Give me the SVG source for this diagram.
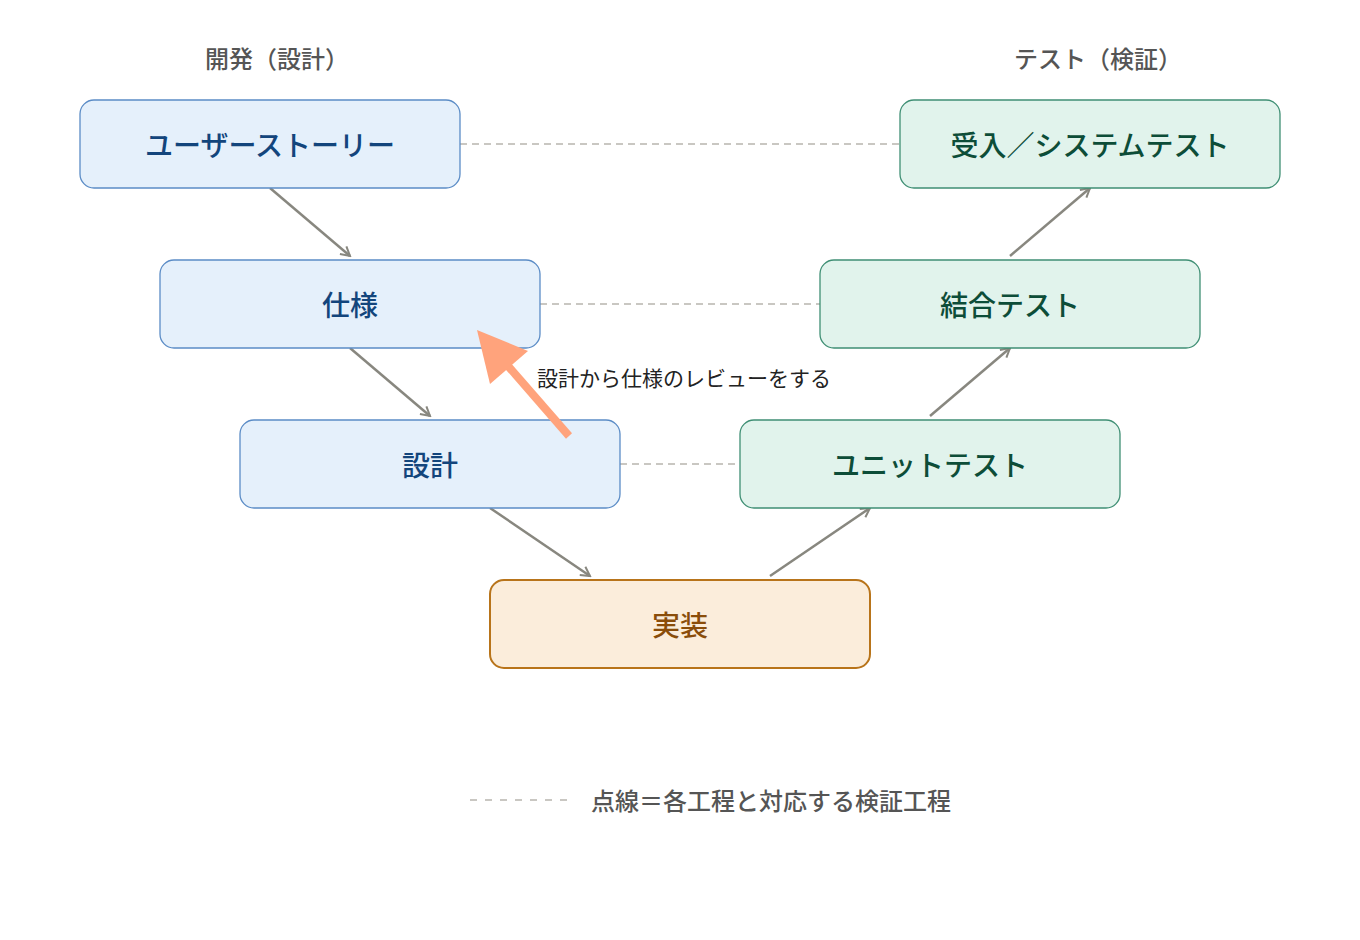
<svg xmlns="http://www.w3.org/2000/svg" width="1360" height="940" viewBox="0 0 1360 940">
<style>
text{font-family:"Noto Sans CJK JP","Noto Sans",sans-serif}
.dev rect{fill:#e5f0fb;stroke:#5b8cc6;stroke-width:1.3}
.dev text{fill:#13457c}
.tst rect{fill:#e1f3ec;stroke:#3f8f74;stroke-width:1.3}
.tst text{fill:#0d4d38}
.imp rect{fill:#fbeddb;stroke:#b8741a;stroke-width:2}
.imp text{fill:#8a4d0a}
.lbl{font-size:28px;font-weight:500;text-anchor:middle}
.hdr{font-size:24px;fill:#555;text-anchor:middle;font-weight:500}
.flow{stroke:#88877f;stroke-width:2.5;fill:none;marker-end:url(#ah)}
.dash{stroke:#b8b5af;stroke-width:1.5;stroke-dasharray:7 5;fill:none}
.dash.leg{stroke-dasharray:7 8}
</style>
<defs>
<marker id="ah" viewBox="0 0 12 12" refX="10" refY="6" markerWidth="12" markerHeight="12" markerUnits="userSpaceOnUse" orient="auto">
<path d="M1,1 L10,6 L1,11" fill="none" stroke="#88877f" stroke-width="2"/>
</marker>
</defs>
<rect width="1360" height="940" fill="#fff"/>
<text class="hdr" x="277" y="68">開発（設計）</text>
<text class="hdr" x="1098" y="68">テスト（検証）</text>
<g id="connectors">
<line class="dash" x1="460" y1="144" x2="900" y2="144"/>
<line class="dash" x1="540" y1="304" x2="820" y2="304"/>
<line class="dash" x1="620" y1="464" x2="740" y2="464"/>
<line class="flow" x1="270" y1="188" x2="350" y2="256"/>
<line class="flow" x1="350" y1="348" x2="430" y2="416"/>
<line class="flow" x1="490" y1="508" x2="590" y2="576"/>
<line class="flow" x1="770" y1="576" x2="870" y2="508"/>
<line class="flow" x1="930" y1="416" x2="1010" y2="348"/>
<line class="flow" x1="1010" y1="256" x2="1090" y2="188"/>
</g>
<g id="n-story" class="dev"><rect x="80" y="100" width="380" height="88" rx="14"/><text class="lbl" x="270" y="156">ユーザーストーリー</text></g>
<g id="n-spec" class="dev"><rect x="160" y="260" width="380" height="88" rx="14"/><text class="lbl" x="350" y="316">仕様</text></g>
<g id="n-design" class="dev"><rect x="240" y="420" width="380" height="88" rx="14"/><text class="lbl" x="430" y="476">設計</text></g>
<g id="n-impl" class="imp"><rect x="490" y="580" width="380" height="88" rx="14"/><text class="lbl" x="680" y="636">実装</text></g>
<g id="n-unit" class="tst"><rect x="740" y="420" width="380" height="88" rx="14"/><text class="lbl" x="930" y="476">ユニットテスト</text></g>
<g id="n-integ" class="tst"><rect x="820" y="260" width="380" height="88" rx="14"/><text class="lbl" x="1010" y="316">結合テスト</text></g>
<g id="n-accept" class="tst"><rect x="900" y="100" width="380" height="88" rx="14"/><text class="lbl" x="1090" y="156">受入／システムテスト</text></g>
<g id="review">
<line x1="569" y1="436" x2="508" y2="366" stroke="#ffa37c" stroke-width="8"/>
<polygon points="477,330 528,351 490,384" fill="#ffa37c"/>
<text x="537" y="386" font-size="21" fill="#222">設計から仕様のレビューをする</text>
</g>
<g id="legend">
<line class="dash leg" x1="470" y1="800" x2="570" y2="800"/>
<text x="591" y="810" font-size="24" fill="#555" font-weight="500">点線＝各工程と対応する検証工程</text>
</g>
</svg>
